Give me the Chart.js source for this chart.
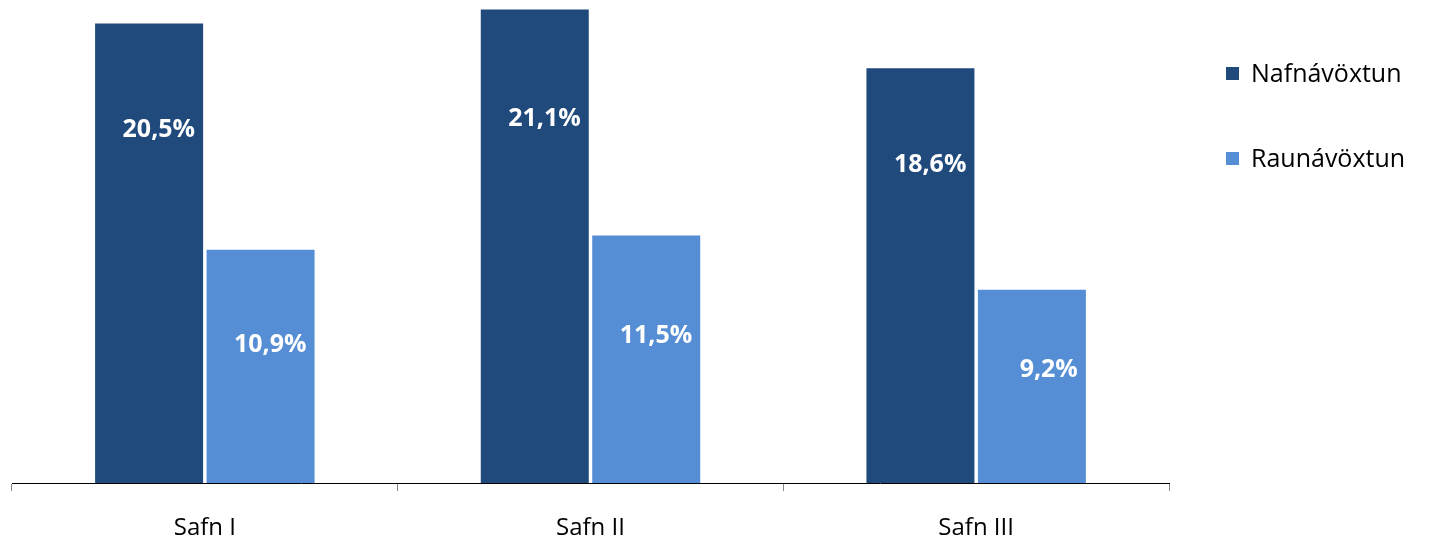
<!DOCTYPE html>
<html><head><meta charset="utf-8">
<script src="https://cdn.jsdelivr.net/npm/chart.js@4"></script>
<style>
html,body{margin:0;padding:0;background:#fff;}
#wrap{position:relative;width:1430px;height:543px;}
canvas{position:absolute;left:0;top:0;}
.lg{position:absolute;left:1226px;font-family:"Open Sans",sans-serif;font-size:25px;color:#000;white-space:nowrap;}
.lg span{display:inline-block;width:13px;height:13px;margin-right:12px;vertical-align:middle;position:relative;top:-2px;}
</style></head><body>
<div id="wrap"><canvas id="c" width="1430" height="543"></canvas>
<div class="lg" style="top:55px"><span style="background:#20497C"></span>Nafnávöxtun</div>
<div class="lg" style="top:140px"><span style="background:#558ED5"></span>Raunávöxtun</div>
</div>
<script>
const categories = ["Safn I", "Safn II", "Safn III"];
const seriesNames = ["Nafnávöxtun", "Raunávöxtun"];
const nafnavoxtun = [20.5, 21.1, 18.6];
const raunavoxtun = [10.9, 11.5, 9.2];

const labelPlugin = {
  id: 'barLabels',
  afterDatasetsDraw(chart) {
    const ctx = chart.ctx;
    const ys = chart.scales.y;
    const frac = [0.78, 0.63];
    ctx.save();
    ctx.font = 'bold 25px "Open Sans", sans-serif';
    ctx.fillStyle = '#fff';
    ctx.textAlign = 'right';
    ctx.textBaseline = 'middle';
    chart.data.datasets.forEach((ds, di) => {
      const meta = chart.getDatasetMeta(di);
      meta.data.forEach((bar, i) => {
        const v = ds.data[i];
        const txt = v.toFixed(1).replace('.', ',') + '%';
        const y = ys.getPixelForValue(v * frac[di]);
        ctx.fillText(txt, bar.x + bar.width / 2 - 8, y);
      });
    });
    ctx.restore();
  }
};

new Chart(document.getElementById('c'), {
  type: 'bar',
  data: {
    labels: categories,
    datasets: [
      { label: seriesNames[0], data: nafnavoxtun, backgroundColor: '#20497C', categoryPercentage: 0.578, barPercentage: 0.969 },
      { label: seriesNames[1], data: raunavoxtun, backgroundColor: '#558ED5', categoryPercentage: 0.578, barPercentage: 0.969 }
    ]
  },
  options: {
    responsive: false,
    animation: false,
    events: [],
    layout: { padding: { left: 12, right: 261, top: 0, bottom: 0 } },
    plugins: { legend: { display: false }, tooltip: { enabled: false } },
    scales: {
      y: { display: false, min: 1, max: 21.5 },
      x: {
        afterFit(scale) { scale.height = 60; },
        border: { display: true, color: '#000', width: 1 },
        grid: { offset: true, drawOnChartArea: false, drawTicks: true, tickLength: 8, color: '#888' },
        ticks: { color: '#000', font: { family: '"Open Sans", sans-serif', size: 24 }, padding: 23 }
      }
    }
  },
  plugins: [labelPlugin]
});
</script>
</body></html>
